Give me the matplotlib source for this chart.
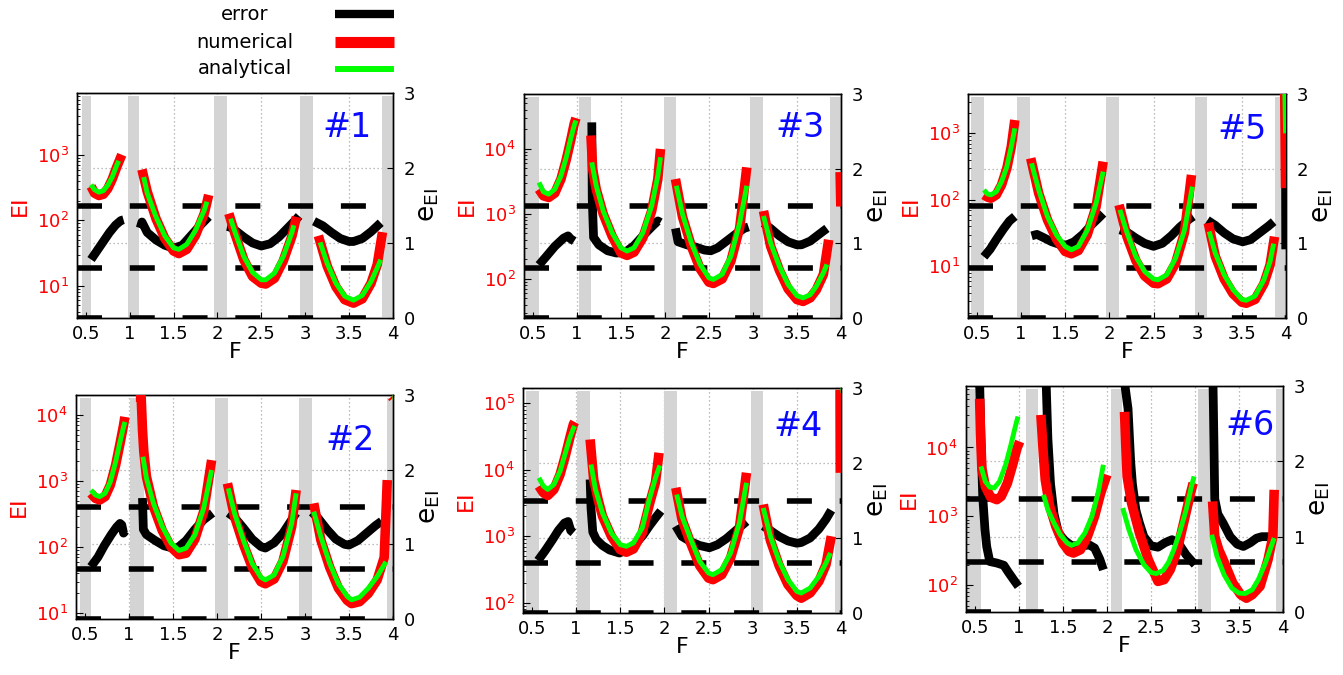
import numpy as np
import matplotlib
matplotlib.use('Agg')
import matplotlib.pyplot as plt
from matplotlib.lines import Line2D
from matplotlib.ticker import LogLocator, NullFormatter

plt.rcParams['font.family'] = ['DejaVu Sans']

# ------------------------------------------------------------------ data
XTICKS = [0.5, 1, 1.5, 2, 2.5, 3, 3.5, 4]
XTICKLABELS = ['0.5', '1', '1.5', '2', '2.5', '3', '3.5', '4']
XGRID = [0.5, 1.0, 1.5, 2.0, 2.5, 3.0, 3.5]
EGRID = [1, 2]
ETICKS = [0, 1, 2, 3]
DASH_LEVELS = [0.0, 0.667, 1.5]
LEGEND_LABELS = ['error', 'numerical', 'analytical']

# ---- panel #1
P1_YLIM = (3.2, 8900)
P1_BANDS = [(0.457, 0.56), (0.98, 1.11), (1.96, 2.11), (2.94, 3.09), (3.87, 4.0)]
P1_ANA_F = [[0.56, 0.60, 0.65, 0.70, 0.75, 0.80, 0.85, 0.875],
            [1.16, 1.20, 1.30, 1.40, 1.50, 1.56, 1.65, 1.75, 1.85, 1.88],
            [2.15, 2.20, 2.30, 2.40, 2.50, 2.55, 2.65, 2.75, 2.85, 2.87],
            [3.17, 3.25, 3.35, 3.45, 3.55, 3.65, 3.75, 3.82, 3.86]]
P1_ANA = [[352, 294, 270, 284, 344, 458, 681, 815],
          [460, 261, 113, 58, 38, 36, 43, 70, 143, 193],
          [106, 66, 28, 16, 12.3, 12.3, 15.6, 28, 66, 84],
          [46, 22, 10.9, 6.9, 6.0, 7.1, 11.6, 18.7, 25]]
P1_NUM_F = [[0.56, 0.60, 0.65, 0.70, 0.75, 0.80, 0.85, 0.91],
            [1.14, 1.20, 1.30, 1.40, 1.50, 1.56, 1.65, 1.75, 1.85, 1.90],
            [2.13, 2.20, 2.30, 2.40, 2.50, 2.55, 2.65, 2.75, 2.85, 2.90],
            [3.15, 3.25, 3.35, 3.45, 3.55, 3.65, 3.75, 3.82, 3.88]]
P1_NUM = [[331, 261, 240, 251, 305, 422, 641, 1010],
          [600, 275, 106, 53, 34, 31, 36, 59, 127, 245],
          [127, 62, 25, 13.8, 10.9, 10.6, 13, 24, 58, 113],
          [58, 20, 9.6, 6.1, 5.4, 6.3, 10.9, 21, 66]]
P1_ERR_F = [[0.56, 0.63, 0.70, 0.77, 0.84, 0.90, 0.93],
            [1.12, 1.14, 1.20, 1.30, 1.40, 1.50, 1.60, 1.70, 1.80, 1.90],
            [2.11, 2.15, 2.20, 2.30, 2.40, 2.50, 2.60, 2.70, 2.80, 2.90, 2.93],
            [3.10, 3.20, 3.30, 3.40, 3.50, 3.55, 3.65, 3.75, 3.86]]
P1_ERR = [[0.78, 0.90, 1.02, 1.14, 1.24, 1.30, 1.31],
          [1.20, 1.28, 1.14, 1.04, 0.97, 0.93, 0.97, 1.10, 1.23, 1.35],
          [1.22, 1.21, 1.17, 1.08, 1.00, 0.96, 0.99, 1.08, 1.20, 1.32, 1.36],
          [1.29, 1.23, 1.14, 1.06, 1.02, 1.02, 1.06, 1.15, 1.27]]

# ---- panel #3
P3_YLIM = (25, 70000)
P3_BANDS = [(0.41, 0.57), (1.02, 1.16), (1.985, 2.13), (2.97, 3.11), (3.87, 4.0)]
P3_ANA_F = [[0.57, 0.62, 0.68, 0.75, 0.82, 0.88, 0.93, 0.97, 0.99],
            [1.17, 1.22, 1.30, 1.40, 1.50, 1.57, 1.65, 1.75, 1.85, 1.92, 1.95],
            [2.13, 2.20, 2.30, 2.40, 2.50, 2.55, 2.65, 2.75, 2.85, 2.93],
            [3.12, 3.20, 3.30, 3.40, 3.50, 3.57, 3.65, 3.72, 3.80, 3.84]]
P3_ANA = [[3050, 2190, 2010, 2400, 3870, 7430, 14300, 23000, 27400],
          [6220, 2710, 1110, 514, 301, 268, 301, 514, 1330, 3870, 7430],
          [2710, 990, 360, 167, 104, 98, 117, 224, 735, 2710],
          [930, 360, 157, 82, 55, 51, 57, 77, 124, 167]]
P3_NUM_F = [[0.57, 0.62, 0.68, 0.75, 0.82, 0.88, 0.93, 0.97, 0.99],
            [1.16, 1.18, 1.22, 1.30, 1.40, 1.50, 1.57, 1.65, 1.75, 1.85, 1.92, 1.95],
            [2.12, 2.20, 2.30, 2.40, 2.50, 2.55, 2.65, 2.75, 2.85, 2.93],
            [3.12, 3.20, 3.30, 3.40, 3.50, 3.57, 3.65, 3.72, 3.80, 3.86],
            [3.99, 3.998]]
P3_NUM = [[2400, 1900, 1790, 2090, 3440, 6840, 13500, 24400, 29800],
          [16100, 4900, 2400, 990, 457, 252, 230, 258, 430, 1110, 3440, 10000],
          [3440, 900, 320, 143, 89, 85, 100, 188, 615, 5200],
          [1110, 320, 136, 70, 48, 45, 51, 68, 117, 400],
          [4400, 1300]]
P3_ERR_F = [[0.57, 0.65, 0.75, 0.85, 0.90, 0.93, 0.97],
            [1.17, 1.175, 1.19, 1.25, 1.35, 1.45, 1.55, 1.65, 1.75, 1.85, 1.92, 1.95],
            [2.12, 2.15, 2.25, 2.35, 2.45, 2.52, 2.60, 2.70, 2.80, 2.90, 2.95],
            [3.12, 3.20, 3.30, 3.40, 3.50, 3.55, 3.65, 3.75, 3.84]]
P3_ERR = [[0.71, 0.82, 0.96, 1.07, 1.10, 1.06, 1.03],
          [2.62, 1.60, 1.08, 0.98, 0.90, 0.87, 0.88, 0.97, 1.10, 1.22, 1.30, 1.28],
          [1.20, 1.02, 0.98, 0.95, 0.91, 0.90, 0.94, 1.03, 1.12, 1.20, 1.22],
          [1.27, 1.20, 1.10, 1.02, 0.98, 0.98, 1.03, 1.12, 1.20]]

# ---- panel #5
P5_YLIM = (1.68, 3900)
P5_BANDS = [(0.438, 0.579), (0.951, 1.103), (1.959, 2.111), (2.967, 3.111), (3.879, 4.0)]
P5_ANA_F = [[0.58, 0.62, 0.66, 0.72, 0.78, 0.84, 0.89, 0.93],
            [1.12, 1.20, 1.30, 1.40, 1.50, 1.57, 1.65, 1.75, 1.85, 1.93],
            [2.12, 2.20, 2.30, 2.40, 2.50, 2.55, 2.65, 2.75, 2.85, 2.94],
            [3.13, 3.20, 3.30, 3.40, 3.50, 3.55, 3.65, 3.75, 3.82, 3.86],
            [3.985, 3.995]]
P5_ANA = [[141, 123, 119, 133, 188, 316, 631, 1190],
          [355, 141, 56, 30, 20, 17.8, 20, 35, 89, 266],
          [71, 32, 14.1, 8.4, 6.5, 6.3, 7.5, 13.3, 35, 158],
          [33.5, 15.8, 7.5, 4.5, 3.2, 3.1, 3.6, 6.3, 11.9, 22],
          [5000, 1000]]
P5_NUM_F = [[0.58, 0.62, 0.66, 0.72, 0.78, 0.84, 0.89, 0.93],
            [1.11, 1.20, 1.30, 1.40, 1.50, 1.57, 1.65, 1.75, 1.85, 1.93],
            [2.11, 2.20, 2.30, 2.40, 2.50, 2.55, 2.65, 2.75, 2.85, 2.93],
            [3.12, 3.20, 3.30, 3.40, 3.50, 3.55, 3.65, 3.75, 3.82, 3.87],
            [3.985, 3.995]]
P5_NUM = [[119, 110, 106, 119, 168, 299, 631, 1585],
          [422, 126, 50, 26, 16.8, 15.5, 17.4, 30, 79, 376],
          [84, 28, 12.3, 7.2, 5.6, 5.5, 6.5, 11.2, 32, 237],
          [45, 14.1, 6.5, 3.9, 2.9, 2.8, 3.2, 5.5, 10.6, 28],
          [5000, 150]]
P5_ERR_F = [[0.58, 0.65, 0.72, 0.80, 0.87, 0.93],
            [1.12, 1.18, 1.25, 1.35, 1.45, 1.52, 1.60, 1.70, 1.80, 1.88, 1.93],
            [2.12, 2.20, 2.30, 2.40, 2.50, 2.60, 2.70, 2.80, 2.90, 2.95],
            [3.11, 3.20, 3.30, 3.40, 3.51, 3.60, 3.70, 3.80, 3.86],
            [3.995, 3.997]]
P5_ERR = [[0.82, 0.92, 1.05, 1.19, 1.30, 1.36],
          [1.10, 1.12, 1.08, 1.02, 0.98, 0.98, 1.02, 1.12, 1.25, 1.34, 1.40],
          [1.18, 1.15, 1.07, 1.00, 0.96, 1.00, 1.10, 1.22, 1.32, 1.36],
          [1.31, 1.24, 1.14, 1.06, 1.02, 1.05, 1.14, 1.23, 1.29],
          [1.90, 0.92]]

# ---- panel #2
P2_YLIM = (8.2, 20000)
P2_BANDS = [(0.446, 0.567), (1.016, 1.168), (1.974, 2.126), (2.936, 3.08), (3.936, 4.0)]
P2_ANA_F = [[0.57, 0.62, 0.67, 0.73, 0.79, 0.85, 0.90, 0.94, 0.956],
            [1.16, 1.20, 1.28, 1.38, 1.48, 1.57, 1.65, 1.75, 1.85, 1.94],
            [2.13, 2.20, 2.30, 2.40, 2.50, 2.55, 2.65, 2.75, 2.85, 2.90],
            [3.10, 3.18, 3.28, 3.38, 3.48, 3.53, 3.62, 3.72, 3.82, 3.92],
            [3.985, 4.0]]
P2_ANA = [[731, 615, 581, 652, 977, 1950, 3920, 6590, 7840],
          [2330, 1100, 460, 205, 115, 89, 97, 153, 387, 1470],
          [775, 326, 129, 57, 35, 32, 38, 72, 230, 652],
          [345, 145, 57, 28, 18, 16, 17.5, 24, 36, 60],
          [18500, 18500]]
P2_NUM_F = [[0.57, 0.62, 0.67, 0.73, 0.79, 0.85, 0.90, 0.94, 0.955],
            [1.08, 1.14, 1.155, 1.17, 1.20, 1.28, 1.38, 1.48, 1.57, 1.65, 1.75, 1.85, 1.94],
            [2.12, 2.20, 2.30, 2.40, 2.50, 2.55, 2.65, 2.75, 2.85, 2.90],
            [3.10, 3.18, 3.28, 3.38, 3.48, 3.53, 3.62, 3.72, 3.82, 3.90, 3.935],
            [3.985, 4.0]]
P2_NUM = [[652, 548, 518, 581, 871, 1740, 3700, 6980, 9330],
          [18500, 18500, 6000, 2800, 1160, 410, 178, 100, 77, 81, 132, 345, 2070],
          [922, 290, 112, 50, 30, 28, 33, 61, 205, 731],
          [460, 129, 50, 24, 15.7, 14, 15, 20, 32, 70, 1035],
          [19000, 18000]]
P2_ERR_F = [[0.57, 0.65, 0.72, 0.80, 0.86, 0.90, 0.92, 0.94, 0.96],
            [1.155, 1.165, 1.20, 1.30, 1.40, 1.50, 1.55, 1.65, 1.75, 1.85, 1.95],
            [2.13, 2.20, 2.30, 2.40, 2.50, 2.55, 2.65, 2.75, 2.85, 2.90],
            [3.08, 3.15, 3.25, 3.35, 3.45, 3.50, 3.60, 3.70, 3.80, 3.87]]
P2_ERR = [[0.70, 0.83, 0.98, 1.13, 1.23, 1.28, 1.26, 1.15, 1.18],
          [1.62, 1.20, 1.13, 1.05, 0.98, 0.95, 0.95, 1.05, 1.20, 1.33, 1.42],
          [1.42, 1.36, 1.22, 1.07, 0.97, 0.95, 1.02, 1.15, 1.33, 1.42],
          [1.43, 1.35, 1.20, 1.07, 1.00, 0.99, 1.05, 1.15, 1.25, 1.31]]

# ---- panel #4
P4_YLIM = (70, 170000)
P4_BANDS = [(0.438, 0.579), (1.016, 1.16), (1.997, 2.14), (2.977, 3.12), (3.928, 4.0)]
P4_ANA_F = [[0.58, 0.63, 0.68, 0.75, 0.82, 0.88, 0.93, 0.97, 0.985],
            [1.17, 1.22, 1.30, 1.40, 1.50, 1.57, 1.65, 1.75, 1.83, 1.90, 1.95],
            [2.14, 2.20, 2.30, 2.40, 2.50, 2.55, 2.65, 2.75, 2.85, 2.93],
            [3.12, 3.20, 3.30, 3.40, 3.50, 3.55, 3.65, 3.75, 3.83, 3.88],
            [3.985, 3.995]]
P4_ANA = [[7570, 5680, 5060, 6010, 9550, 18000, 30300, 41500, 45500],
          [12000, 5060, 2250, 1120, 748, 706, 792, 1340, 3570, 7570, 11600],
          [4250, 2000, 891, 420, 280, 264, 314, 561, 1590, 6370],
          [2670, 1000, 420, 222, 148, 140, 166, 249, 396, 561],
          [160000, 160000]]
P4_NUM_F = [[0.58, 0.63, 0.68, 0.75, 0.82, 0.88, 0.93, 0.97, 0.985],
            [1.16, 1.20, 1.25, 1.30, 1.40, 1.50, 1.57, 1.65, 1.75, 1.83, 1.90, 1.94],
            [2.13, 2.20, 2.30, 2.40, 2.50, 2.55, 2.65, 2.75, 2.85, 2.93],
            [3.12, 3.20, 3.30, 3.40, 3.50, 3.55, 3.65, 3.75, 3.83, 3.89],
            [3.99, 3.993]]
P4_NUM = [[5680, 4500, 4100, 5060, 8510, 16400, 30300, 48200, 52400],
          [28600, 7140, 3570, 2000, 1000, 630, 575, 645, 1120, 3000, 6500, 18000],
          [5360, 1780, 775, 361, 235, 222, 264, 471, 1340, 9020],
          [3000, 871, 361, 187, 128, 117, 140, 210, 374, 1000],
          [160000, 9000]]
P4_ERR_F = [[0.57, 0.65, 0.73, 0.80, 0.87, 0.91, 0.94, 0.97],
            [1.16, 1.17, 1.19, 1.23, 1.30, 1.38, 1.49, 1.58, 1.68, 1.76, 1.83, 1.90, 1.96],
            [2.13, 2.20, 2.30, 2.40, 2.51, 2.60, 2.70, 2.80, 2.93],
            [3.12, 3.20, 3.30, 3.40, 3.50, 3.55, 3.65, 3.75, 3.83, 3.89]]
P4_ERR = [[0.70, 0.83, 0.97, 1.10, 1.20, 1.22, 1.10, 1.07],
          [1.78, 1.40, 1.08, 0.98, 0.90, 0.84, 0.80, 0.84, 0.93, 1.04, 1.16, 1.27, 1.36],
          [1.16, 1.02, 0.95, 0.90, 0.87, 0.91, 0.99, 1.09, 1.22],
          [1.16, 1.10, 1.02, 0.96, 0.93, 0.94, 1.00, 1.12, 1.25, 1.37]]

# ---- panel #6
P6_YLIM = (41, 78000)
P6_BANDS = [(0.415, 0.567), (1.08, 1.217), (2.042, 2.175), (3.04, 3.18), (3.916, 4.0)]
P6_ANA_F = [[0.57, 0.62, 0.67, 0.72, 0.78, 0.85, 0.91, 0.96, 0.99],
            [1.28, 1.33, 1.40, 1.47, 1.55, 1.60, 1.67, 1.75, 1.83, 1.90, 1.96],
            [2.18, 2.25, 2.33, 2.42, 2.50, 2.56, 2.64, 2.70, 2.76, 2.83, 2.90, 2.96, 2.99],
            [3.19, 3.25, 3.33, 3.42, 3.50, 3.57, 3.65, 3.72, 3.80, 3.86, 3.90]]
P6_ANA = [[5310, 3210, 2660, 2580, 3210, 5610, 10900, 20100, 28100],
          [2060, 1250, 800, 542, 411, 380, 411, 573, 1000, 2180, 5610],
          [1320, 641, 329, 200, 154, 148, 165, 215, 329, 607, 1250, 2720, 3800],
          [542, 263, 143, 91, 77, 76, 86, 121, 211, 348, 485]]
P6_NUM_F = [[0.555, 0.565, 0.58, 0.62, 0.68, 0.75, 0.80, 0.87, 0.93, 0.98, 1.01],
            [1.25, 1.265, 1.28, 1.30, 1.35, 1.42, 1.50, 1.57, 1.62, 1.70, 1.78, 1.86, 1.93, 2.00],
            [2.20, 2.215, 2.23, 2.28, 2.37, 2.47, 2.58, 2.65, 2.72, 2.80, 2.88, 2.95, 2.98],
            [3.20, 3.225, 3.27, 3.32, 3.43, 3.52, 3.585, 3.65, 3.74, 3.83, 3.885, 3.90]]
P6_NUM = [[51000, 16000, 5000, 2700, 1900, 1750, 1950, 3040, 5610, 9780, 12200],
          [29700, 15000, 7400, 3400, 1400, 716, 411, 311, 294, 329, 513, 1000, 2180, 4020],
          [32900, 10300, 3800, 1560, 573, 236, 114, 121, 169, 329, 895, 2180, 3040],
          [1650, 513, 329, 236, 108, 73, 65, 73, 97, 236, 513, 2430]]
P6_ERR_F = [[0.555, 0.57, 0.59, 0.615, 0.635, 0.67, 0.75, 0.83, 0.88, 0.94, 0.995],
            [1.31, 1.33, 1.36, 1.40, 1.45, 1.52, 1.60, 1.68, 1.73, 1.80, 1.86, 1.92, 1.96],
            [2.20, 2.24, 2.27, 2.29, 2.33, 2.37, 2.42, 2.50, 2.58, 2.66, 2.74, 2.82, 2.90, 2.96, 3.00],
            [3.205, 3.215, 3.225, 3.26, 3.32, 3.40, 3.48, 3.55, 3.63, 3.70, 3.76, 3.83, 3.89]]
P6_ERR = [[3.05, 2.30, 1.53, 1.10, 0.87, 0.67, 0.65, 0.62, 0.53, 0.43, 0.34],
          [3.05, 2.30, 1.70, 1.30, 1.05, 0.95, 0.88, 0.88, 0.88, 0.89, 0.85, 0.70, 0.56],
          [3.05, 2.70, 2.00, 1.70, 1.35, 1.18, 1.00, 0.88, 0.86, 0.92, 0.96, 0.90, 0.76, 0.68, 0.63],
          [3.05, 2.30, 1.50, 1.30, 1.18, 1.00, 0.90, 0.87, 0.92, 0.98, 1.00, 1.00, 0.98]]

# ------------------------------------------------------------------ style
RED = '#ff0000'
GREEN = '#00ff00'
BLUE = '#0a0aff'
GRAY = '#d4d4d4'
GRIDC = '#a8a8a8'

W, H = 1343, 675
fig = plt.figure(figsize=(W / 100, H / 100), dpi=100)
fig.patch.set_facecolor('white')


def rect(l, r, t, b):
    return [l / W, (H - b) / H, (r - l) / W, (b - t) / H]


def panel(box, ylim, bands, ana_f, ana, num_f, num, err_f, err, tag, tagxy):
    ax = fig.add_axes(rect(*box))
    ax2 = ax.twinx()
    ax.set_zorder(ax2.get_zorder() + 1)
    ax.patch.set_visible(False)
    ax2.patch.set_visible(True)
    ax2.patch.set_facecolor('white')
    ax.set_xlim(0.4, 4.0)
    ax2.set_ylim(0, 3)

    # background: grid, gray bands
    for x in XGRID:
        ax2.axvline(x, color=GRIDC, lw=0.9, ls=(0, (1, 2.2)), zorder=0.3)
    for y in EGRID:
        ax2.axhline(y, color=GRIDC, lw=0.9, ls=(0, (1, 2.2)), zorder=0.3)
    for a, b in bands:
        ax2.axvspan(a, b, ymin=0.006, ymax=0.985, color=GRAY, lw=0, zorder=0.5)
    # dashed reference levels
    for y in DASH_LEVELS:
        ax2.axhline(y, color='black', lw=4, ls=(0, (4.5, 5.0)), zorder=1)
    # error curve
    for f, e in zip(err_f, err):
        ax2.plot(f, e, color='black', lw=6.3, solid_capstyle='butt',
                 solid_joinstyle='round', zorder=2)

    # EI curves (log axis)
    ax.set_yscale('log')
    ax.set_ylim(*ylim)
    for f, v in zip(num_f, num):
        ax.plot(f, v, color=RED, lw=6.9, solid_capstyle='butt',
                solid_joinstyle='round', zorder=3)
    for f, v in zip(ana_f, ana):
        ax.plot(f, v, color=GREEN, lw=3.5, solid_capstyle='butt',
                solid_joinstyle='round', zorder=4)

    # ticks
    ax.set_xticks(XTICKS)
    ax.set_xticklabels(XTICKLABELS)
    ax.tick_params(axis='x', direction='in', length=4, labelsize=13, pad=5,
                   top=False)
    ax.yaxis.set_major_locator(LogLocator(base=10, numticks=20))
    ax.yaxis.set_minor_locator(LogLocator(base=10, subs=np.arange(2, 10), numticks=20))
    ax.yaxis.set_minor_formatter(NullFormatter())
    ax.tick_params(axis='y', which='major', direction='in', length=5,
                   labelsize=13, labelcolor=RED, pad=6)
    ax.tick_params(axis='y', which='minor', direction='in', length=2.5)
    ax2.set_yticks(ETICKS)
    ax2.tick_params(axis='y', direction='in', length=4, labelsize=13, pad=8)
    for a in (ax, ax2):
        for s in a.spines.values():
            s.set_linewidth(1.0)
            s.set_color('black')

    # labels
    ax.text(-0.18, 0.5, 'EI', color=RED, fontsize=16, rotation=90,
            ha='center', va='center', transform=ax.transAxes)
    ax.text(1.112, 0.5, r'$\mathregular{e_{EI}}$', color='black', fontsize=19,
            rotation=90, ha='center', va='center', transform=ax.transAxes)
    ax.text(0.5, -0.15, 'F', fontsize=16, ha='center', va='center',
            transform=ax.transAxes)
    ax.text(tagxy[0], tagxy[1], tag, color=BLUE, fontsize=24, ha='center',
            va='center', transform=ax.transAxes, zorder=10)
    return ax


panel((77, 393, 93, 318), P1_YLIM, P1_BANDS, P1_ANA_F, P1_ANA, P1_NUM_F, P1_NUM,
      P1_ERR_F, P1_ERR, '#1', (0.855, 0.848))
panel((524, 841, 94, 318), P3_YLIM, P3_BANDS, P3_ANA_F, P3_ANA, P3_NUM_F, P3_NUM,
      P3_ERR_F, P3_ERR, '#3', (0.871, 0.852))
panel((968, 1286, 94, 318), P5_YLIM, P5_BANDS, P5_ANA_F, P5_ANA, P5_NUM_F, P5_NUM,
      P5_ERR_F, P5_ERR, '#5', (0.862, 0.84))
panel((76, 393, 395, 619), P2_YLIM, P2_BANDS, P2_ANA_F, P2_ANA, P2_NUM_F, P2_NUM,
      P2_ERR_F, P2_ERR, '#2', (0.864, 0.795))
panel((523, 841, 388, 613), P4_YLIM, P4_BANDS, P4_ANA_F, P4_ANA, P4_NUM_F, P4_NUM,
      P4_ERR_F, P4_ERR, '#4', (0.865, 0.827))
panel((966, 1283, 386, 612), P6_YLIM, P6_BANDS, P6_ANA_F, P6_ANA, P6_NUM_F, P6_NUM,
      P6_ERR_F, P6_ERR, '#6', (0.896, 0.827))

# ------------------------------------------------------------------ legend
leg_y = [14, 42, 69]
leg_col = ['black', RED, GREEN]
leg_lw = [6.0, 8.0, 4.3]
for lab, yy, c, lw in zip(LEGEND_LABELS, leg_y, leg_col, leg_lw):
    fig.text(245 / W, 1 - yy / H, lab, fontsize=14, ha='center', va='center')
    fig.add_artist(Line2D([335 / W, 394 / W], [1 - yy / H, 1 - yy / H],
                          transform=fig.transFigure, color=c, lw=lw,
                          solid_capstyle='butt'))

fig.savefig('out.png', dpi=100)
